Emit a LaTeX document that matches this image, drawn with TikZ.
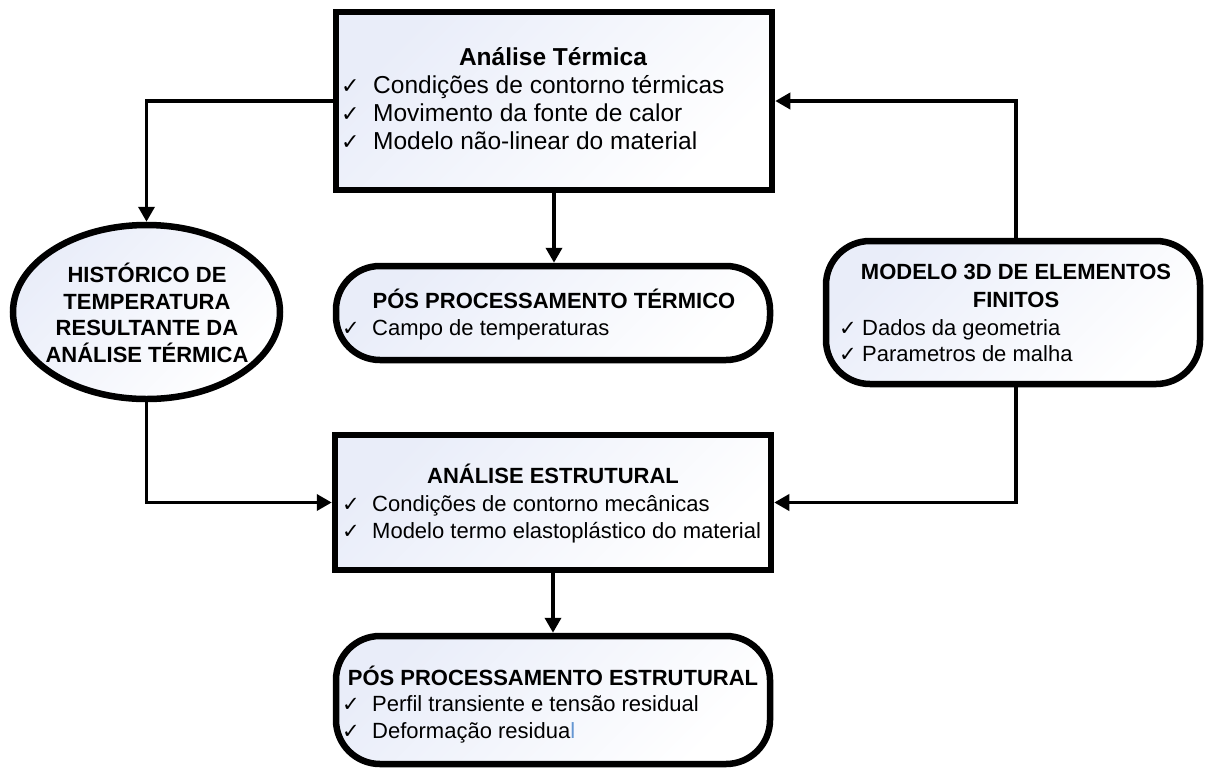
\documentclass[tikz,border=0pt]{standalone}
\usepackage{fontspec}
\setmainfont{Liberation Sans}
\newfontfamily\chkfont{DejaVu Sans}
\usetikzlibrary{arrows.meta,shapes.geometric}
\definecolor{gradc}{RGB}{233,237,249}
\definecolor{bluel}{RGB}{100,150,210}
\tikzset{
  x=1pt, y=-1pt,
  fillgrad/.style={top color=gradc, bottom color=white, shading angle=45},
  sqbox/.style={draw, line width=6.5pt, fillgrad, rectangle, inner sep=0pt},
  rndbox/.style={draw, line width=6.5pt, fillgrad, rectangle, rounded corners=44pt, inner sep=0pt},
  ovalbox/.style={draw, line width=6.5pt, fillgrad, ellipse, inner sep=0pt},
  conn/.style={line width=3.6pt, -{Triangle[length=15pt,width=16pt]}},
  txt/.style={inner sep=0pt, text height=16pt, text depth=0pt, font=\fontsize{22}{26}\selectfont},
  ttl/.style={txt, font=\bfseries\fontsize{22}{26}\selectfont},
  txtL/.style={inner sep=0pt, text height=17.6pt, text depth=0pt, font=\fontsize{24.5}{28}\selectfont},
  ttlL/.style={txtL, font=\bfseries\fontsize{24.5}{28}\selectfont},
  chk/.style={inner sep=0pt, text height=14pt, text depth=0pt, font=\chkfont\fontsize{21}{24}\selectfont, anchor=west},
  chkL/.style={inner sep=0pt, text height=15pt, text depth=0pt, font=\chkfont\fontsize{22}{26}\selectfont, anchor=west},
}
\begin{document}
\begin{tikzpicture}
\useasboundingbox (0,0) rectangle (1207,769);

% shapes
\node[sqbox, minimum width=436pt, minimum height=178pt] (ter) at (554,101) {};
\node[rndbox, minimum width=434pt, minimum height=94pt] (pos) at (553,313) {};
\node[ovalbox, minimum width=267pt, minimum height=174pt] (hist) at (146.5,312) {};
\node[rndbox, minimum width=374pt, minimum height=143pt] (mod) at (1013,312.5) {};
\node[sqbox, minimum width=436pt, minimum height=135pt] (est) at (553,502.5) {};
\node[rndbox, minimum width=434pt, minimum height=128pt] (fin) at (553,700) {};

% connectors
\draw[conn] (ter.west) -| (hist.north);
\draw[conn] (ter.south) -- (ter.south |- pos.north);
\draw[conn] ([xshift=3pt]mod.north) |- (ter.east);
\draw[conn] (hist.south) |- (est.west);
\draw[conn] ([xshift=3pt]mod.south) |- (est.east);
\draw[conn] (est.south) -- (est.south |- fin.north);

% texts: Analise Termica
\node[ttlL] (t1) at (553,57) {Análise Térmica};
\node[chkL] (c11) at (341,86) {✓};
\node[txtL, anchor=west] (t11) at (373,85) {Condições de contorno térmicas};
\node[chkL] (c12) at (341,114) {✓};
\node[txtL, anchor=west] (t12) at (373,113) {Movimento da fonte de calor};
\node[chkL] (c13) at (341,142) {✓};
\node[txtL, anchor=west] (t13) at (373,141) {Modelo não-linear do material};

% Pos processamento termico
\node[ttl] (t2) at (554,300) {PÓS PROCESSAMENTO TÉRMICO};
\node[chk] (c21) at (342,328) {✓};
\node[txt, anchor=west] (t21) at (372,327) {Campo de temperaturas};

% Historico
\node[inner sep=0pt, align=center, font=\bfseries\fontsize{22}{26.5}\selectfont] (t3) at (147,313)
  {HISTÓRICO DE\\TEMPERATURA\\RESULTANTE DA\\ANÁLISE TÉRMICA};

% Modelo 3D
\node[inner sep=0pt, align=center, font=\bfseries\fontsize{22}{28}\selectfont] (t4) at (1016,286)
  {MODELO 3D DE ELEMENTOS\\FINITOS};
\node[chk] (c41) at (839,328) {✓};
\node[txt, anchor=west] (t41) at (862,327) {Dados da geometria};
\node[chk] (c42) at (839,354) {✓};
\node[txt, anchor=west] (t42) at (862,353) {Parametros de malha};

% Analise estrutural
\node[ttl] (t5) at (553,475) {ANÁLISE ESTRUTURAL};
\node[chk] (c51) at (342,504) {✓};
\node[txt, anchor=west] (t51) at (372,503) {Condições de contorno mecânicas};
\node[chk] (c52) at (342,531) {✓};
\node[txt, anchor=west] (t52) at (372,530) {Modelo termo elastoplástico do material};

% Pos processamento estrutural
\node[ttl] (t6) at (553,677) {PÓS PROCESSAMENTO ESTRUTURAL};
\node[chk] (c61) at (342,704) {✓};
\node[txt, anchor=west] (t61) at (372,703) {Perfil transiente e tensão residual};
\node[chk] (c62) at (342,731) {✓};
\node[txt, anchor=west] (t62) at (372,730) {Deformação residua{\color{bluel}l}};
\end{tikzpicture}
\end{document}
